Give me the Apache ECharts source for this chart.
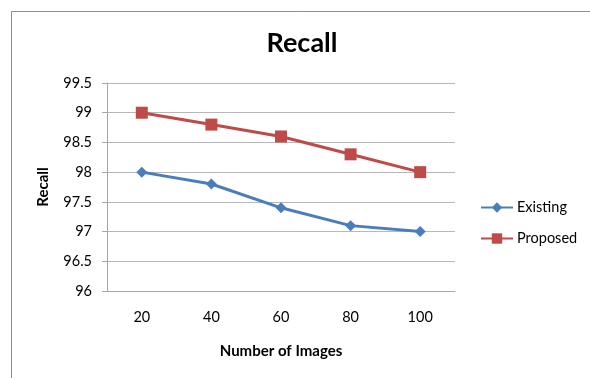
<!DOCTYPE html>
<html>
<head>
<meta charset="utf-8">
<script src="https://cdn.jsdelivr.net/npm/echarts@6/dist/echarts.min.js"></script>
<style>
  html, body { margin: 0; padding: 0; background: #fff; }
  #chart { width: 590px; height: 378px; }
</style>
</head>
<body>
<div id="chart"></div>
<script>
// Recall per number of images, two methods
const categories = ['20', '40', '60', '80', '100'];
const existing = [98, 97.8, 97.4, 97.1, 97];
const proposed = [99, 98.8, 98.6, 98.3, 98];
const yTicks = { min: 96, max: 99.5, interval: 0.5 };

const font = 'Lato, "Open Sans", sans-serif';

const chart = echarts.init(document.getElementById('chart'), null, { renderer: 'canvas' });
chart.setOption({
  animation: false,
  backgroundColor: '#fff',
  title: {
    text: 'Recall',
    left: 302,
    top: 30,
    padding: 0,
    textAlign: 'center',
    textStyle: { fontFamily: font, fontWeight: 'bold', fontSize: 27, color: '#000' }
  },
  graphic: [{
    type: 'rect',
    shape: { x: 11.5, y: 11.5, width: 700, height: 500 },
    style: { fill: 'none', stroke: '#8c8c8c', lineWidth: 1 },
    silent: true
  }],
  grid: { left: 107, top: 83, right: 135, bottom: 87, containLabel: false },
  legend: {
    orient: 'vertical',
    left: 480,
    top: 200,
    padding: 0,
    itemWidth: 32,
    itemHeight: 13,
    itemGap: 16,
    textStyle: { fontFamily: font, fontSize: 14.5, color: '#000', padding: [0, 0, 0, -1] },
    data: ['Existing', 'Proposed']
  },
  xAxis: {
    type: 'category',
    data: categories,
    boundaryGap: true,
    name: 'Number of Images',
    nameLocation: 'middle',
    nameGap: 53,
    nameTextStyle: { fontFamily: font, fontWeight: 'bold', fontSize: 15, color: '#000' },
    axisLine: { lineStyle: { color: '#a6a6a6', width: 1 } },
    axisTick: { show: false },
    axisLabel: { fontFamily: font, fontSize: 14.5, color: '#000', margin: 19 }
  },
  yAxis: {
    type: 'value',
    min: yTicks.min,
    max: yTicks.max,
    interval: yTicks.interval,
    name: 'Recall',
    nameLocation: 'middle',
    nameGap: 56,
    nameRotate: 90,
    nameTextStyle: { fontFamily: font, fontWeight: 'bold', fontSize: 15, color: '#000' },
    axisLine: { show: true, lineStyle: { color: '#a6a6a6', width: 1 } },
    axisTick: { show: true, length: 5, lineStyle: { color: '#a6a6a6' } },
    axisLabel: { fontFamily: font, fontSize: 14.5, color: '#000', margin: 15 },
    splitLine: { show: true, lineStyle: { color: '#b8b8b8', width: 1 } }
  },
  series: [
    {
      name: 'Existing',
      type: 'line',
      data: existing,
      symbol: 'diamond',
      symbolSize: 11,
      lineStyle: { color: '#4a7ebb', width: 3 },
      itemStyle: { color: '#4a7ebb' }
    },
    {
      name: 'Proposed',
      type: 'line',
      data: proposed,
      symbol: 'rect',
      symbolSize: 12,
      lineStyle: { color: '#be4b48', width: 3 },
      itemStyle: { color: '#be4b48' }
    }
  ]
});
</script>
</body>
</html>
